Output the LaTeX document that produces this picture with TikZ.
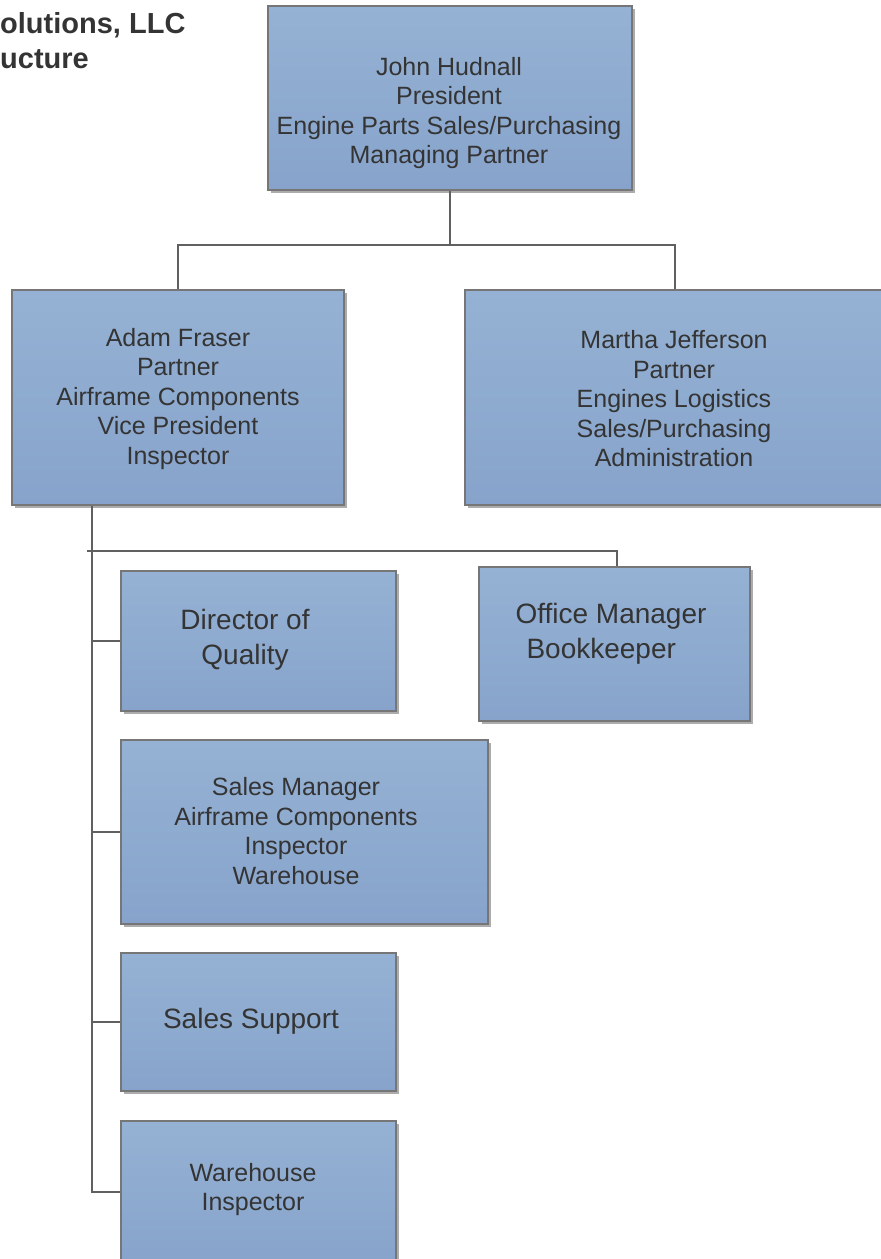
\documentclass[tikz,border=0pt]{standalone}
\usepackage{fontspec}
\setmainfont{Liberation Sans}
\usetikzlibrary{shadows}
\definecolor{boxtop}{RGB}{149,178,212}
\definecolor{boxbot}{RGB}{135,163,203}
\definecolor{boxedge}{RGB}{118,118,118}
\definecolor{inktext}{RGB}{52,52,52}
\definecolor{wiregray}{RGB}{96,96,96}
\tikzstyle{post} = [draw=boxedge, line width=1.2pt, top color=boxtop, bottom color=boxbot, inner sep=0pt,
  drop shadow={shadow xshift=2.5pt, shadow yshift=-2.5pt, fill=black!65}]
\tikzstyle{role} = [text=inktext, align=center, inner sep=0pt, font=\fontsize{25}{29.5}\selectfont]
\tikzstyle{bigrole} = [text=inktext, align=center, inner sep=0pt, font=\fontsize{28}{35}\selectfont]
\tikzstyle{heading} = [text=inktext, inner sep=0pt, anchor=base west, font=\fontsize{29}{35}\bfseries\selectfont]
\tikzstyle{wire} = [draw=wiregray, line width=2pt]

\begin{document}
\begin{tikzpicture}[x=1pt, y=-1pt]
  \useasboundingbox (0,0) rectangle (881,1259);

  % Heading, cut at the left edge
  \node[heading] (head1) at (0,33) {olutions, LLC};
  \node[heading] (head2) at (0,68) {ucture};

  % Partners
  \node[post, minimum width=364, minimum height=184] (john) at (450,98) {};
  \node[role] (johnlbl) at (449,113) {John Hudnall\\President\\Engine Parts Sales/Purchasing\\Managing Partner};

  \node[post, minimum width=332, minimum height=215] (adam) at (178,397.5) {};
  \node[role] (adamlbl) at (178,399) {Adam Fraser\\Partner\\Airframe Components\\Vice President\\Inspector};

  \node[post, minimum width=420, minimum height=215] (martha) at (675,397.5) {};
  \node[role] (marthalbl) at (674,399) {Martha Jefferson\\Partner\\Engines Logistics\\Sales/Purchasing\\Administration};

  % Staff under Adam
  \node[post, minimum width=275, minimum height=140] (director) at (258.5,641) {};
  \node[bigrole] (directorlbl) at (245,640) {Director of\\Quality};

  \node[post, minimum width=271, minimum height=154] (office) at (614.5,644) {};
  \node[bigrole, align=left] (officelbl) at (611,634) {Office Manager\\\hspace*{11pt}Bookkeeper};

  \node[post, minimum width=367, minimum height=184] (salesmgr) at (304.5,832) {};
  \node[role] (salesmgrlbl) at (296,831) {Sales Manager\\Airframe Components\\Inspector\\Warehouse};

  \node[post, minimum width=275, minimum height=138] (support) at (258.5,1022) {};
  \node[bigrole] (supportlbl) at (251,1021) {Sales Support};

  \node[post, minimum width=275, minimum height=141] (warehouse) at (258.5,1191.5) {};
  \node[role] (warehouselbl) at (253,1189.5) {Warehouse\\Inspector};

  % Connectors
  \coordinate (topbus) at (450,245);
  \draw[wire] (john.south) -- (topbus);
  \draw[wire] (adam.north) |- (topbus) -| (martha.north);

  \coordinate (stem) at ([xshift=81]adam.south west);
  \draw[wire] (stem) |- (warehouse.west);
  \foreach \n in {director, salesmgr, support}
    \draw[wire] (stem |- \n.west) -- (\n.west);

  \coordinate (sidebus) at ([xshift=-5]stem |- 0,551);
  \draw[wire] (sidebus) -| ([xshift=2]office.north);
\end{tikzpicture}
\end{document}
